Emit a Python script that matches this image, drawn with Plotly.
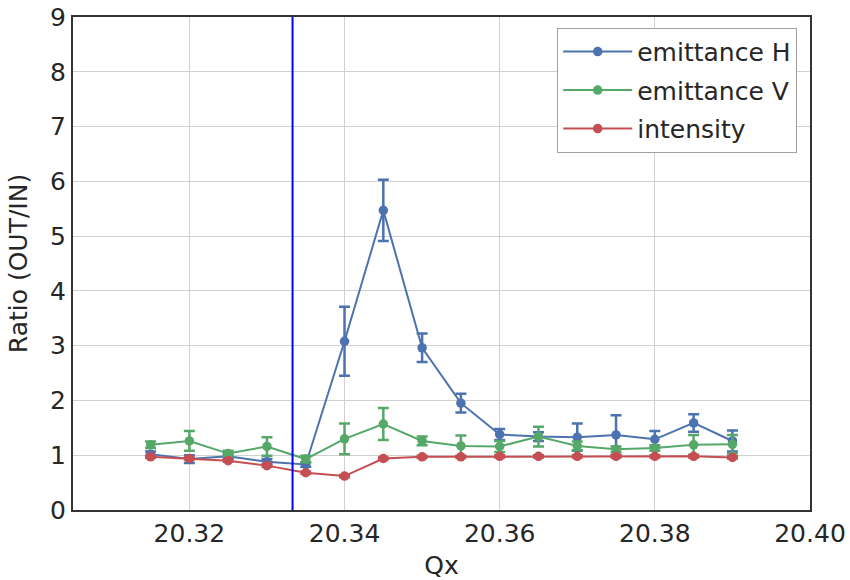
import plotly.graph_objects as go

qx = [20.315, 20.32, 20.325, 20.33, 20.335, 20.34, 20.345, 20.35, 20.355,
      20.36, 20.365, 20.37, 20.375, 20.38, 20.385, 20.39]

emit_h = [1.02, 0.93, 0.98, 0.88, 0.83, 3.08, 5.47, 2.96, 1.95,
          1.38, 1.34, 1.33, 1.37, 1.29, 1.59, 1.26]
emit_h_err = [0.05, 0.07, 0.04, 0.05, 0.04, 0.63, 0.56, 0.26, 0.17,
              0.10, 0.08, 0.25, 0.36, 0.15, 0.16, 0.19]

emit_v = [1.19, 1.26, 1.03, 1.16, 0.93, 1.30, 1.57, 1.26, 1.17,
          1.16, 1.34, 1.17, 1.11, 1.13, 1.19, 1.20]
emit_v_err = [0.06, 0.18, 0.05, 0.17, 0.06, 0.28, 0.29, 0.08, 0.19,
              0.10, 0.18, 0.08, 0.05, 0.05, 0.18, 0.17]

intensity = [0.97, 0.94, 0.90, 0.81, 0.68, 0.62, 0.94, 0.97, 0.97,
             0.98, 0.98, 0.98, 0.98, 0.98, 0.98, 0.96]
intensity_err = [0.02, 0.02, 0.02, 0.02, 0.02, 0.02, 0.02, 0.02, 0.02,
                 0.02, 0.02, 0.02, 0.02, 0.02, 0.02, 0.02]

qx_line = 20.3333

series = [
    ("emittance H", emit_h, emit_h_err, "#4C72B0"),
    ("emittance V", emit_v, emit_v_err, "#55A868"),
    ("intensity", intensity, intensity_err, "#C44E52"),
]

fig = go.Figure()
for name, vals, errs, col in series:
    fig.add_trace(go.Scatter(
        x=qx, y=vals, name=name, mode="lines+markers", legendgroup=name,
        line=dict(color=col, width=2),
        marker=dict(color=col, size=9.5),
        error_y=dict(type="data", array=errs, visible=True, color=col,
                     thickness=2.5, width=5.5),
    ))

fig.add_vline(x=qx_line, line=dict(color="#0000FF", width=2))

FS = 25
axis_common = dict(
    showgrid=True, gridcolor="#D0D0D0", gridwidth=1.2,
    showline=True, linecolor="#333333", linewidth=2, mirror=True,
    ticks="", zeroline=False, automargin=False,
    tickfont=dict(family="DejaVu Sans", size=FS, color="#262626"),
    title_font=dict(family="DejaVu Sans", size=FS, color="#262626"),
)

fig.update_layout(
    width=850, height=580,
    margin=dict(l=73, r=40, t=17, b=70),
    paper_bgcolor="white", plot_bgcolor="white",
    font=dict(family="DejaVu Sans", color="#262626"),
    xaxis=dict(range=[20.305, 20.40], tickvals=[20.32, 20.34, 20.36, 20.38, 20.40],
               ticktext=["20.32", "20.34", "20.36", "20.38", "20.40"],
               title=dict(text="Qx"), **axis_common),
    yaxis=dict(range=[0, 9], dtick=1,
               title=dict(text="Ratio (OUT/IN)"), **axis_common),
    legend=dict(x=0.657, y=0.978, xanchor="left", yanchor="top",
                bgcolor="white", bordercolor="#A0A0A0", borderwidth=1,
                font=dict(family="DejaVu Sans", size=FS, color="#262626"),
                itemwidth=69, tracegroupgap=3),
    showlegend=True,
)

fig.write_html("out.html")
